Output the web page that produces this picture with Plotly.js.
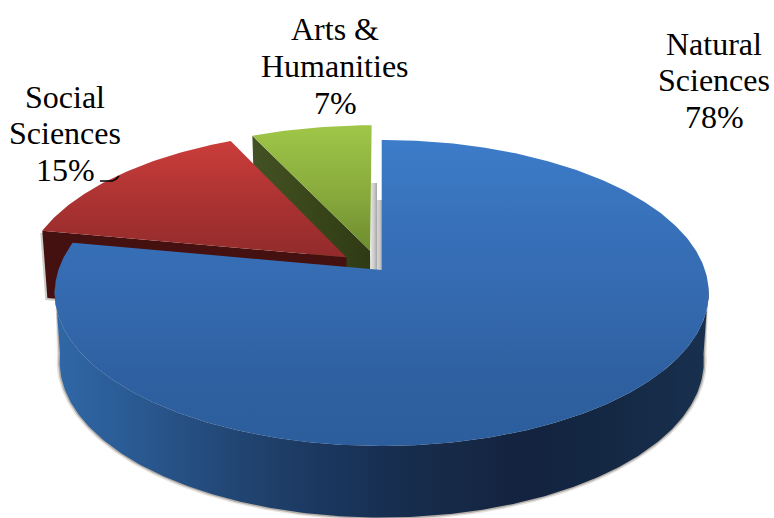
<!DOCTYPE html>
<html>
<head>
<meta charset="utf-8">
<script src="https://cdn.plot.ly/plotly-3.0.1.min.js"></script>
<style>html,body{margin:0;padding:0;background:#fff}#chart{width:774px;height:518px}</style>
</head>
<body>
<div id="chart"></div>
<script>
// Share of publications by field, drawn as an exploded 3-D pie.
const categories = ["Natural Sciences", "Social Sciences", "Arts & Humanities"];
const shares = [78, 15, 7];
const explode = [0, 0.14, 0.135];
const sideways = [0, 0, -0.007];
const labelLines = [["Natural", "Sciences", "78%"], ["Social", "Sciences", "15%"], ["Arts &", "Humanities", "7%"]];
const labelX = [714, 65, 335];
const labelY = [[44, 80, 117], [97, 133, 170], [29, 66, 103]];

// Perspective view of the unit disc, in plot units.
const CX = 381.7, CY = 270, K = 0.15, A = 323.3, B = 149.6;
const project = (u, v) => [CX + A * u / (1 + K * v), CY - B * v / (1 + K * v)];
const lower = ([x, y]) => [CX + (x - CX) * 0.985, 338 + (y - CY) * 1.02];

const total = shares.reduce((a, b) => a + b, 0);
let running = 0;
const slices = shares.map((s, i) => {
  const from = running / total * 2 * Math.PI;
  running += s;
  const to = running / total * 2 * Math.PI;
  const mid = (from + to) / 2;
  const ou = explode[i] * Math.sin(mid) + sideways[i], ov = explode[i] * Math.cos(mid);
  const rim = [];
  const n = Math.max(8, Math.round((to - from) * 90));
  for (let k = 0; k <= n; k++) {
    const t = from + (to - from) * k / n;
    rim.push(project(ou + Math.sin(t), ov + Math.cos(t)));
  }
  return {from, to, apex: project(ou, ov), rim};
});

function poly(pts, style) {
  return Object.assign({
    x: pts.map(p => p[0]).concat(pts[0][0]),
    y: pts.map(p => p[1]).concat(pts[0][1]),
    type: "scatter", mode: "lines", fill: "toself",
    line: {width: 0}, hoverinfo: "skip", showlegend: false
  }, style);
}
const grad = (type, start, stop, stops) => ({
  fillcolor: stops[0][1],
  fillgradient: {type, start, stop, colorscale: stops}
});

const [blue, red, green] = slices;

// Front wall of the large slice: the near part of its rim, out and back along the base.
const wallTop = blue.rim.filter(p => p[1] > 285);
const wallBase = wallTop.map(lower);
const wallPts = wallTop.concat(wallBase.slice().reverse());
const BASE_Y = 361.5;
const halo = d => wallTop.concat(wallBase.map(([x, y]) =>
  [CX + (x - CX) * (1 + d / 322), BASE_Y + (y - BASE_Y) * (1 + d / 156)]).reverse());

const greenFace = [green.rim[0], green.apex, lower(green.apex), lower(green.rim[0])];
const redFace = [red.rim[0], red.apex, lower(red.apex), lower(red.rim[0])];

const data = [
  // shadow on the backdrop behind the raised slice
  poly([[371, 270], [371, 183], [377, 183], [377, 200], [382, 200], [382, 270]],
    grad("horizontal", 371, 382, [[0, "#e2e2e2"], [0.3, "#c9c9c9"], [0.5, "#ababab"], [0.6, "#d6d6d6"], [1, "#b4b4b4"]])),

  // Arts & Humanities: cut face, then top
  poly(greenFace, grad("horizontal", 252, 371, [[0, "#435224"], [0.5, "#394619"], [1, "#2f3a14"]])),
  poly([green.apex].concat(green.rim),
    grad("vertical", 125, 251, [[0, "#a0c648"], [0.5, "#8aad3e"], [1, "#6e8c2e"]])),

  // Social Sciences: contact shadow, cut face, then top
  poly(redFace.map(([x, y]) => [x - 2, y + 2]), {fillcolor: "rgba(110,110,100,0.35)"}),
  poly(redFace, {fillcolor: "#451010"}),
  poly([red.apex].concat(red.rim),
    grad("vertical", 141, 257, [[0, "#cb3d3b"], [0.5, "#ac3332"], [1, "#922b2b"]])),

  // Natural Sciences: contact shadow, wall, then top
  poly(halo(3), {fillcolor: "rgba(150,140,130,0.25)"}),
  poly(halo(1.5), {fillcolor: "rgba(120,110,100,0.45)"}),
  poly(wallPts, grad("horizontal", 56, 706, [
    [0, "#2f68a6"], [0.1, "#2b5c96"], [0.2, "#264f82"], [0.3, "#20436f"],
    [0.4, "#1b3860"], [0.5, "#182f52"], [0.6, "#162a47"], [0.72, "#13233f"],
    [0.85, "#142843"], [1, "#18304f"]
  ])),
  poly([blue.apex].concat(blue.rim),
    grad("vertical", 140, 446, [[0, "#3d7cc9"], [0.3, "#3770b8"], [0.55, "#3469ae"], [0.75, "#2f61a2"], [1, "#2c5e9d"]]))
];

const annotations = [];
labelLines.forEach((lines, i) => lines.forEach((text, j) => annotations.push({
  text, x: labelX[i], y: labelY[i][j], xref: "x", yref: "y",
  xanchor: "center", yanchor: "middle", showarrow: false,
  font: {family: "Liberation Serif, Times New Roman, serif", size: 32, color: "#000"}
})));

const hidden = {visible: false, fixedrange: true};
const layout = {
  width: 774, height: 518,
  margin: {l: 0, r: 0, t: 0, b: 0},
  paper_bgcolor: "#fff", plot_bgcolor: "#fff",
  xaxis: Object.assign({range: [0, 774]}, hidden),
  yaxis: Object.assign({range: [518, 0]}, hidden),
  annotations,
  // leader from the Social Sciences label to its slice
  shapes: [{
    type: "path", path: "M 100 181 L 112 181 Q 116 180 119 176",
    xref: "x", yref: "y", line: {color: "#000", width: 1.6}
  }]
};
Plotly.newPlot("chart", data, layout, {displayModeBar: false, staticPlot: true});
</script>
</body>
</html>
